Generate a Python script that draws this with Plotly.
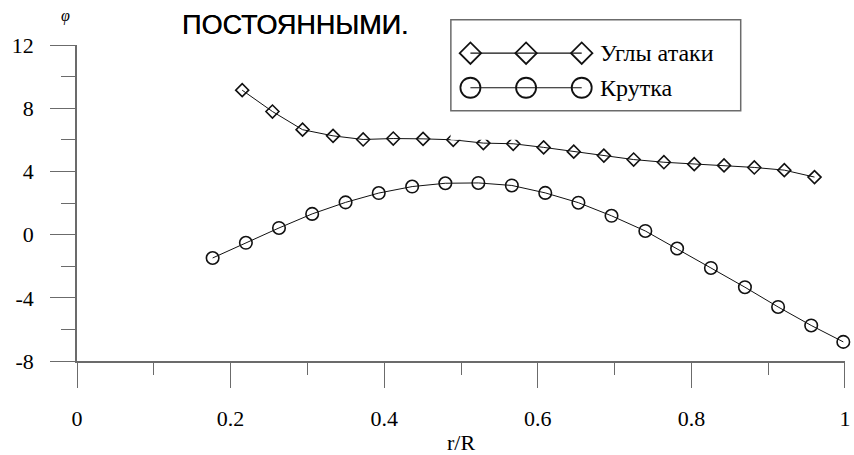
import plotly.graph_objects as go

# Углы атаки (angles of attack) along the blade span
alpha_r = [0.2151, 0.2545, 0.2937, 0.3334, 0.3726, 0.4118, 0.4506, 0.4899, 0.5291, 0.5680,
           0.6076, 0.6468, 0.6860, 0.7248, 0.7642, 0.8037, 0.8425, 0.8819, 0.9210, 0.9603]
alpha_phi = [9.14, 7.79, 6.64, 6.25, 6.02, 6.08, 6.06, 6.00, 5.79, 5.75,
             5.52, 5.25, 5.00, 4.75, 4.58, 4.46, 4.38, 4.25, 4.08, 3.64]

# Крутка (twist) along the blade span
twist_r = [0.1766, 0.2199, 0.2630, 0.3062, 0.3497, 0.3929, 0.4364, 0.4796, 0.5226, 0.5662,
           0.6097, 0.6529, 0.6960, 0.7400, 0.7814, 0.8254, 0.8697, 0.9129, 0.9560, 0.9978]
twist_phi = [-1.48, -0.52, 0.42, 1.31, 2.04, 2.63, 3.04, 3.25, 3.27, 3.11,
             2.64, 2.02, 1.19, 0.23, -0.88, -2.11, -3.33, -4.58, -5.75, -6.79]

x_ticks = [0, 0.2, 0.4, 0.6, 0.8, 1]
x_ticklabels = ["0", "0.2", "0.4", "0.6", "0.8", "1"]
x_minor = [0.1, 0.3, 0.5, 0.7, 0.9]
y_ticks = [-8, -4, 0, 4, 8, 12]
y_ticklabels = ["-8", "-4", "0", "4", "8", "12"]
y_minor = [-6, -2, 2, 6, 10]

series_names = ["Углы атаки", "Крутка"]

SERIF = "Liberation Serif, Times New Roman, DejaVu Serif, serif"
AXIS = "#6b6b6b"
INK = "#111111"

fig = go.Figure()

fig.add_trace(go.Scatter(
    x=alpha_r, y=alpha_phi, mode="lines+markers", name=series_names[0],
    line=dict(color=INK, width=1),
    marker=dict(symbol="diamond-open", size=10, color=INK, line=dict(width=1.6, color=INK)),
    cliponaxis=False, showlegend=False,
))
fig.add_trace(go.Scatter(
    x=twist_r, y=twist_phi, mode="lines+markers", name=series_names[1],
    line=dict(color=INK, width=1),
    marker=dict(symbol="circle-open", size=12.5, color=INK, line=dict(width=1.6, color=INK)),
    cliponaxis=False, showlegend=False,
))

# Hand-drawn legend: three sample markers joined by a line per entry
sample_x = [20, 76, 132]
legend_rows = [1, 0]
legend_symbols = [("diamond-open", 16.5), ("circle-open", 20)]
for row, (sym, size) in zip(legend_rows, legend_symbols):
    fig.add_trace(go.Scatter(
        x=sample_x, y=[row] * len(sample_x), xaxis="x2", yaxis="y2",
        mode="lines+markers", line=dict(color=INK, width=1.2),
        marker=dict(symbol=sym, size=size, color=INK, line=dict(width=1.8, color=INK)),
        cliponaxis=False, showlegend=False, hoverinfo="skip",
    ))

fig.update_layout(
    width=854, height=455,
    margin=dict(l=77, r=4, t=45, b=90),
    paper_bgcolor="white", plot_bgcolor="white",
    font=dict(family=SERIF, size=22, color="#000"),
    xaxis=dict(
        range=[-0.00001, 1.00001], showgrid=False, zeroline=False,
        showline=True, linecolor=AXIS, linewidth=1.5,
        tickmode="array", tickvals=x_ticks, ticktext=x_ticklabels,
        ticks="outside", ticklen=25, tickwidth=1.3, tickcolor=AXIS,
        ticklabelstandoff=12, ticklabeloverflow="allow",
        minor=dict(tickmode="array", tickvals=x_minor, ticks="outside",
                   ticklen=12, tickwidth=1.3, tickcolor=AXIS),
        tickfont=dict(family=SERIF, size=22),
        title=dict(text="r/R", font=dict(family=SERIF, size=22), standoff=4),
    ),
    yaxis=dict(
        range=[-8.0001, 12.0001], showgrid=False, zeroline=False,
        showline=True, linecolor=AXIS, linewidth=1.5,
        tickmode="array", tickvals=y_ticks, ticktext=y_ticklabels,
        ticks="outside", ticklen=25, tickwidth=1.3, tickcolor=AXIS,
        ticklabelstandoff=12, ticklabeloverflow="allow",
        minor=dict(tickmode="array", tickvals=y_minor, ticks="outside",
                   ticklen=14, tickwidth=1.3, tickcolor=AXIS),
        tickfont=dict(family=SERIF, size=22),
    ),
    xaxis2=dict(domain=[0.4864, 0.8642], range=[0, 292], visible=False, fixedrange=True),
    yaxis2=dict(domain=[0.7, 1.0], range=[-1.506, 1.237], visible=False, fixedrange=True,
                anchor="x2"),
    showlegend=False,
)

fig.add_shape(type="rect", xref="paper", yref="paper",
              x0=0.4868, x1=0.8642, y0=0.7916, y1=1.0803,
              line=dict(color=AXIS, width=1.5), fillcolor="rgba(0,0,0,0)", layer="above")

for name, ypos in zip(series_names, [0.974, 0.8647]):
    fig.add_annotation(text=name, xref="paper", yref="paper", x=0.6788, y=ypos,
                       xanchor="left", yanchor="middle", showarrow=False,
                       font=dict(family=SERIF, size=24, color="#000"))

fig.add_annotation(text="ПОСТОЯННЫМИ.", xref="paper", yref="paper", x=0.1345, y=1.0625,
                   xanchor="left", yanchor="middle", showarrow=False,
                   font=dict(family="Liberation Sans, Arial, sans-serif", size=27, color="#000",
                             shadow="0.35px 0 0 #000"))

fig.add_annotation(text="<i>φ</i>", xref="paper", yref="paper", x=-0.0155, y=1.0906,
                   xanchor="center", yanchor="middle", showarrow=False,
                   font=dict(family=SERIF, size=16, color="#000"))

fig.write_html("out.html")
